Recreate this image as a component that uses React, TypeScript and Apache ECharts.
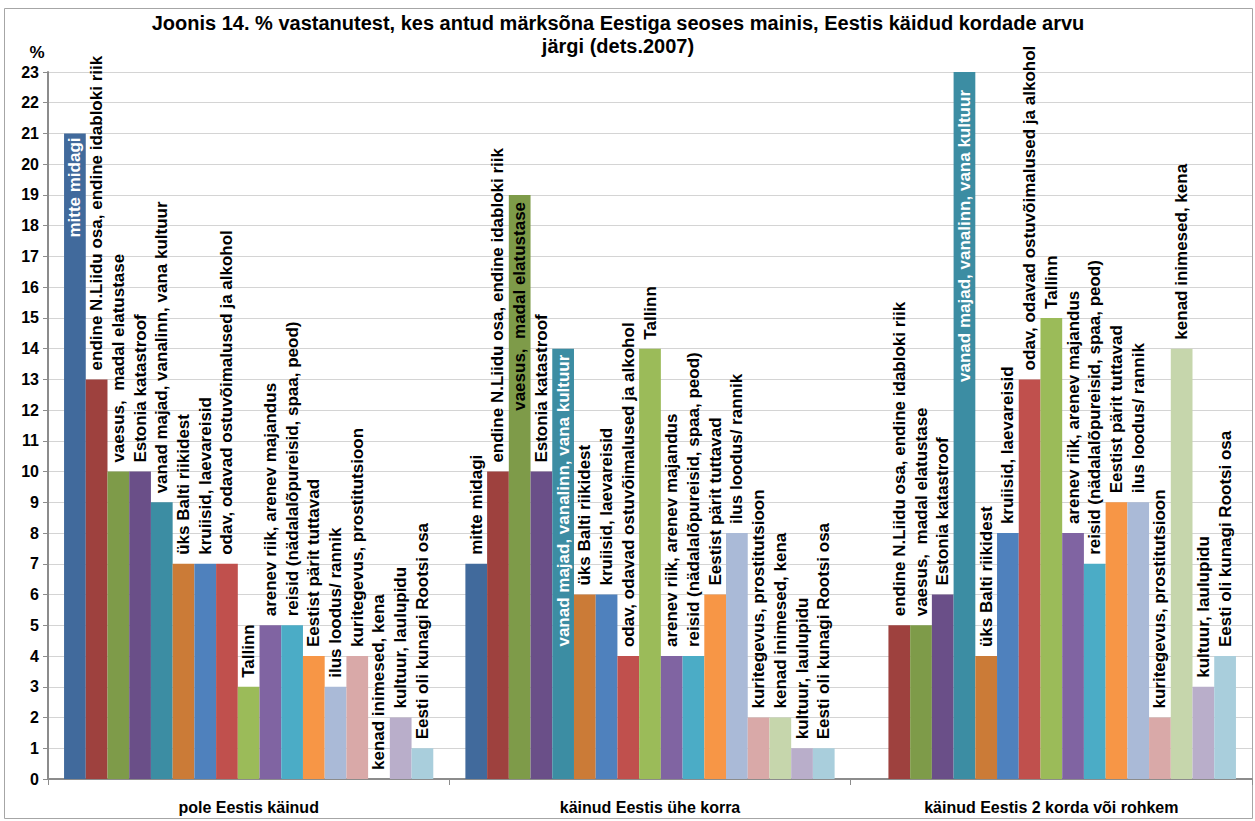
import React, { useEffect, useRef } from "react";
import * as echarts from "echarts";

const categories = [
  "pole Eestis käinud",
  "käinud Eestis ühe korra",
  "käinud Eestis 2 korda või rohkem",
];

const seriesNames = [
  "mitte midagi",
  "endine N.Liidu osa, endine idabloki riik",
  "vaesus,  madal elatustase",
  "Estonia katastroof",
  "vanad majad, vanalinn, vana kultuur",
  "üks Balti riikidest",
  "kruiisid, laevareisid",
  "odav, odavad ostuvõimalused ja alkohol",
  "Tallinn",
  "arenev riik, arenev majandus",
  "reisid (nädalalõpureisid, spaa, peod)",
  "Eestist pärit tuttavad",
  "ilus loodus/ rannik",
  "kuritegevus, prostitutsioon",
  "kenad inimesed, kena",
  "kultuur, laulupidu",
  "Eesti oli kunagi Rootsi osa",
];

const valuesNeverVisited = [21, 13, 10, 10, 9, 7, 7, 7, 3, 5, 5, 4, 3, 4, 0, 2, 1];
const valuesVisitedOnce = [7, 10, 19, 10, 14, 6, 6, 4, 14, 4, 4, 6, 8, 2, 2, 1, 1];
const valuesVisitedTwiceOrMore = [null, 5, 5, 6, 23, 4, 8, 13, 15, 8, 7, 9, 9, 2, 14, 3, 4];

const yTicks = { min: 0, max: 23, interval: 1 };

const colors = [
  "#416A9C", "#9E413E", "#7E9B49", "#6A4F88", "#3C8DA3", "#CB7B37",
  "#4F81BD", "#C0504D", "#9BBB59", "#8064A2", "#4BACC6", "#F79646",
  "#AABAD7", "#D9A9A8", "#C6D6AC", "#B9AECA", "#A9CEDC",
];

// labels drawn inside the top of their bar (shift = extra downward nudge)
const insideLabels = [
  { series: 0, category: 0, color: "#ffffff", shift: 0 },
  { series: 2, category: 1, color: "#000000", shift: 3 },
  { series: 4, category: 1, color: "#ffffff", shift: 2 },
  { series: 4, category: 2, color: "#ffffff", shift: 14 },
];

const FONT = "'Liberation Sans', Arial, sans-serif";

export default function App() {
  const ref = useRef<HTMLDivElement>(null);

  useEffect(() => {
    if (!ref.current) return;
    const chart = echarts.init(ref.current, null, { renderer: "svg" });
    const table = [valuesNeverVisited, valuesVisitedOnce, valuesVisitedTwiceOrMore];

    const series = seriesNames.map((name, si) => ({
      name,
      type: "bar",
      barGap: "0%",
      barCategoryGap: "8%",
      itemStyle: { color: colors[si] },
      label: {
        show: true,
        position: "top",
        rotate: 90,
        align: "left",
        verticalAlign: "middle",
        distance: 9,
        formatter: name,
        color: "#000",
        fontFamily: FONT,
        fontWeight: "bold",
        fontSize: 17,
      },
      data: categories.map((c, ci) => {
        const v = table[ci][si];
        const ins = insideLabels.find((l) => l.series === si && l.category === ci);
        if (ins && v !== null) {
          return {
            value: v,
            label: {
              show: true,
              position: "insideTop",
              align: "right",
              verticalAlign: "middle",
              rotate: 90,
              distance: 4,
              offset: [-ins.shift, 0],
              color: ins.color,
            },
          };
        }
        return v;
      }),
    }));

    chart.setOption({
      animation: false,
      backgroundColor: "#fff",
      grid: { left: 48, right: 3, top: 72, bottom: 42, containLabel: false },
      xAxis: {
        type: "category",
        data: categories,
        axisLine: { lineStyle: { color: "#8C8C8C", width: 2 } },
        axisTick: { show: true, length: 6, lineStyle: { color: "#8C8C8C", width: 1 } },
        axisLabel: {
          color: "#000",
          fontFamily: FONT,
          fontWeight: "bold",
          fontSize: 16,
          margin: 20,
        },
      },
      yAxis: {
        type: "value",
        min: yTicks.min,
        max: yTicks.max,
        interval: yTicks.interval,
        axisLine: { show: true, lineStyle: { color: "#8C8C8C", width: 2 } },
        axisTick: { show: true, length: 5, lineStyle: { color: "#8C8C8C" } },
        axisLabel: {
          color: "#000",
          fontFamily: FONT,
          fontWeight: "bold",
          fontSize: 16,
          margin: 9,
        },
        splitLine: { show: true, lineStyle: { color: "#D4D4D4", width: 1 } },
      },
      graphic: [
        {
          type: "rect",
          shape: { x: 4.5, y: 8.5, width: 1248, height: 810 },
          style: { fill: "none", stroke: "#A6A6A6", lineWidth: 1 },
          silent: true,
          z: -1,
        },
        {
          type: "text",
          x: 618,
          y: 23,
          style: {
            text: "Joonis 14. % vastanutest, kes antud märksõna Eestiga seoses mainis, Eestis käidud kordade arvu",
            fontFamily: FONT,
            fontWeight: "bold",
            fontSize: 20,
            fill: "#000",
            align: "center",
            verticalAlign: "middle",
          },
        },
        {
          type: "text",
          x: 618,
          y: 46,
          style: {
            text: "järgi (dets.2007)",
            fontFamily: FONT,
            fontWeight: "bold",
            fontSize: 20,
            fill: "#000",
            align: "center",
            verticalAlign: "middle",
          },
        },
        {
          type: "text",
          x: 37,
          y: 52,
          style: {
            text: "%",
            fontFamily: FONT,
            fontWeight: "bold",
            fontSize: 17,
            fill: "#000",
            align: "center",
            verticalAlign: "middle",
          },
        },
      ],
      series,
    });

    return () => chart.dispose();
  }, []);

  return (
    <div
      ref={ref}
      style={{ position: "fixed", left: 0, top: 0, width: 1255, height: 821, background: "#fff" }}
    />
  );
}
